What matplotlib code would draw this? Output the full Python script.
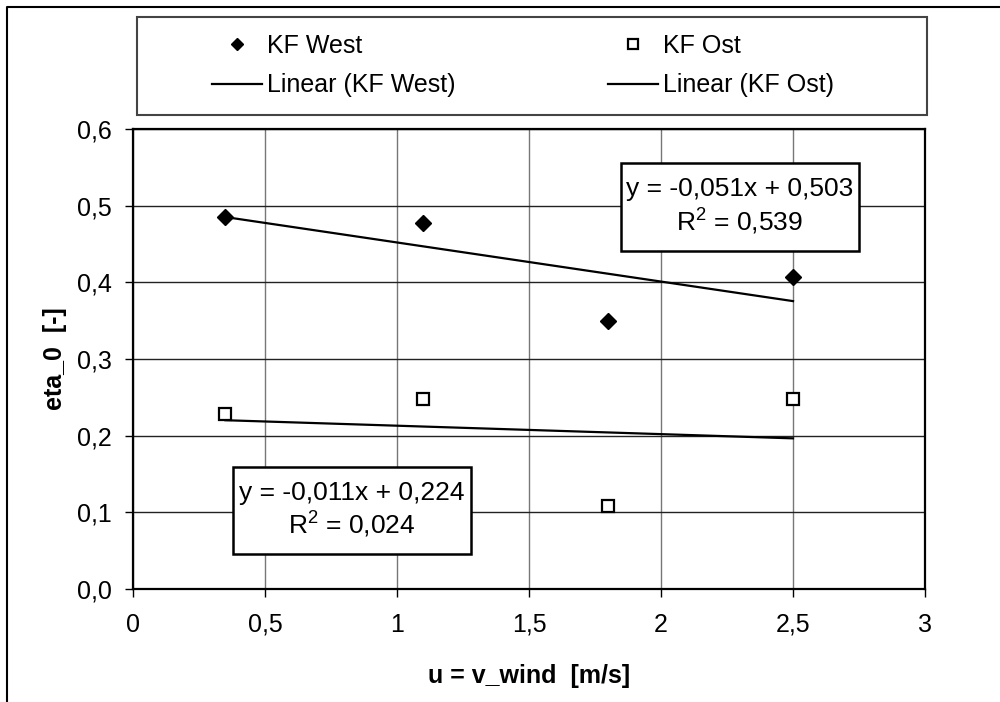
import matplotlib
matplotlib.use('agg')
import matplotlib.pyplot as plt
from matplotlib.patches import Rectangle
from matplotlib.lines import Line2D
from matplotlib.ticker import FixedLocator, FuncFormatter

plt.rcParams['font.family'] = ['Liberation Sans', 'DejaVu Sans']
plt.rcParams['mathtext.fontset'] = 'custom'
plt.rcParams['mathtext.rm'] = 'Liberation Sans'
plt.rcParams['mathtext.default'] = 'regular'

# data
wind = [0.35, 1.1, 1.8, 2.5]
eta_west = [0.485, 0.477, 0.35, 0.407]
eta_ost = [0.228, 0.248, 0.108, 0.248]
# trend lines (slope, intercept) as given in the chart
fit_west = (-0.051, 0.503)
fit_ost = (-0.011, 0.224)
r2_west = 0.539
r2_ost = 0.024
xticks = [0, 0.5, 1, 1.5, 2, 2.5, 3]
yticks = [0.0, 0.1, 0.2, 0.3, 0.4, 0.5, 0.6]

W, H = 1000, 702
def fx(x): return x / W
def fy(y): return 1 - y / H

fig = plt.figure(figsize=(10, 7.02), dpi=100)
ax = fig.add_axes([fx(133), fy(589), fx(925) - fx(133), fy(129) - fy(589)])

ax.set_xlim(0, 3)
ax.set_ylim(0, 0.6)
ax.xaxis.set_major_locator(FixedLocator(xticks))
ax.yaxis.set_major_locator(FixedLocator(yticks))
ax.xaxis.set_major_formatter(FuncFormatter(lambda v, p: ('%g' % v).replace('.', ',')))
ax.yaxis.set_major_formatter(FuncFormatter(lambda v, p: ('%.1f' % v).replace('.', ',')))
ax.tick_params(axis='both', direction='out', length=6, width=1, labelsize=18, color='black')
ax.tick_params(axis='x', pad=11)
ax.tick_params(axis='y', pad=9)
ax.xaxis.grid(True, color='#777777', lw=1)
ax.yaxis.grid(True, color='#222222', lw=1)
ax.set_axisbelow(True)
for s in ax.spines.values():
    s.set_linewidth(1.6)
    s.set_color('black')

ax.plot(wind, eta_west, linestyle='none', marker='D', markersize=8, color='black', label='KF West')
ax.plot(wind, eta_ost, linestyle='none', marker='s', markersize=8.5, markerfacecolor='white',
        markeredgecolor='black', markeredgewidth=1.6, label='KF Ost')

x0, x1 = wind[0], wind[-1]
ax.plot([x0, x1], [fit_west[0] * x0 + fit_west[1], fit_west[0] * x1 + fit_west[1]],
        color='black', lw=1.6, label='Linear (KF West)')
ax.plot([x0, x1], [fit_ost[0] * x0 + fit_ost[1], fit_ost[0] * x1 + fit_ost[1]],
        color='black', lw=1.6, label='Linear (KF Ost)')

ax.set_xlabel('u = v_wind  [m/s]', fontsize=18, fontweight='bold', va='center')
ax.xaxis.set_label_coords(0.5, (H - 676 - (H - 589)) / (589 - 129))
ax.set_ylabel('eta_0  [-]', fontsize=18, fontweight='bold', va='center')
ax.yaxis.set_label_coords((55 - 133) / (925 - 133), 0.5)

# legend
h, l = ax.get_legend_handles_labels()
order = [0, 2, 1, 3]
leg = fig.legend([h[i] for i in order], [l[i] for i in order], ncol=2, frameon=False,
                 loc='upper left', bbox_to_anchor=(fx(212), fy(34)), borderpad=0,
                 borderaxespad=0, fontsize=18, handlelength=2.0, handletextpad=0.2,
                 columnspacing=6.1, labelspacing=0.61, markerscale=0.8)
fig.patches.append(Rectangle((fx(137), fy(115)), fx(927) - fx(137), fy(17) - fy(115),
                             transform=fig.transFigure, fill=False, edgecolor='#444444', lw=1.5))

# equation boxes
def eq_box(left, top, right, bottom, fit, r2):
    fig.patches.append(Rectangle((fx(left), fy(bottom)), fx(right) - fx(left), fy(top) - fy(bottom),
                                 transform=fig.transFigure, facecolor='white', edgecolor='black',
                                 lw=1.8, zorder=2))
    eq = 'y = %.3fx + %.3f' % (fit[0], fit[1])
    txt = eq.replace('.', ',') + '\nR$^2$ = ' + ('%.3f' % r2).replace('.', ',')
    fig.text(fx((left + right) / 2), fy((top + bottom) / 2), txt, ha='center', va='center',
             multialignment='center', fontsize=19, linespacing=1.2, zorder=3)

eq_box(621, 163, 859, 251, fit_west, r2_west)
eq_box(233, 467, 471, 554, fit_ost, r2_ost)

# outer chart frame
fig.lines.append(Line2D([fx(7), fx(7), fx(1000)], [fy(702), fy(7), fy(7)],
                        transform=fig.transFigure, color='black', lw=1.5))

fig.savefig('out.png', dpi=100)
